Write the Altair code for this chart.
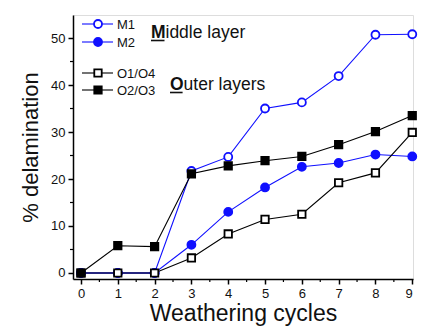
import altair as alt
import pandas as pd

cycles = list(range(10))
m1 = [0, 0, 0, 21.7, 24.7, 35.0, 36.3, 41.9, 50.7, 50.8]
m2 = [0, 0, 0, 6.0, 13.0, 18.2, 22.6, 23.4, 25.2, 24.8]
o14 = [0, 0, 0, 3.2, 8.3, 11.4, 12.5, 19.2, 21.3, 29.9]
o23 = [0, 5.8, 5.6, 21.1, 22.8, 23.9, 24.8, 27.3, 30.1, 33.5]

x_ticks = list(range(10))
y_ticks = [0, 10, 20, 30, 40, 50]
x_minor = [i + 0.5 for i in range(9)]
y_minor = [5, 15, 25, 35, 45]

BLUE = "#1010ff"
FONT = "Liberation Sans"

xs = alt.Scale(domain=[-0.217, 9.02], nice=False, zero=False)
ys = alt.Scale(domain=[-1.28, 54.9], nice=False, zero=False)

xaxis = alt.Axis(values=x_ticks, title="Weathering cycles", grid=False, tickSize=5,
                 tickWidth=1.5, domainWidth=1.5, domainColor="black", tickColor="black",
                 labelFont=FONT, labelFontSize=13, labelColor="#111", labelPadding=3,
                 titleFont=FONT, titleFontSize=23, titleFontWeight="normal",
                 titleColor="#111", titlePadding=2)
yaxis = alt.Axis(values=y_ticks, title="% delamination", grid=False, tickSize=5,
                 tickWidth=1.5, domainWidth=1.5, domainColor="black", tickColor="black",
                 labelFont=FONT, labelFontSize=13, labelColor="#111", labelPadding=3,
                 titleFont=FONT, titleFontSize=22, titleFontWeight="normal",
                 titleColor="#111", titlePadding=8)


def series(vals, color, shape, filled):
    df = pd.DataFrame({"x": cycles, "y": vals})
    x = alt.X("x:Q", scale=xs, axis=xaxis)
    y = alt.Y("y:Q", scale=ys, axis=yaxis)
    line = alt.Chart(df).mark_line(color=color, strokeWidth=1.1).encode(x=x, y=y)
    pts = alt.Chart(df).mark_point(
        shape=shape, size=64 if shape == "circle" else 55, filled=True,
        fill=color if filled else "white", stroke=color, strokeWidth=1.8, opacity=1
    ).encode(x=x, y=y)
    return line + pts


one = pd.DataFrame({"a": [0]})

# minor ticks
xminor_df = pd.DataFrame({"x": x_minor})
yminor_df = pd.DataFrame({"y": y_minor})
xminor = alt.Chart(xminor_df).mark_rule(color="black", strokeWidth=1.2).encode(
    x=alt.X("x:Q", scale=xs, axis=xaxis), y=alt.value(264), y2=alt.value(267))
yminor = alt.Chart(yminor_df).mark_rule(color="black", strokeWidth=1.2).encode(
    y=alt.Y("y:Q", scale=ys, axis=yaxis), x=alt.value(0), x2=alt.value(-3))


def leg_entry(ypix, color, shape, filled, label):
    ln = alt.Chart(one).mark_rule(color=color, strokeWidth=1.1).encode(
        x=alt.value(9), x2=alt.value(40), y=alt.value(ypix))
    pt = alt.Chart(one).mark_point(
        shape=shape, size=64 if shape == "circle" else 55, filled=True,
        fill=color if filled else "white", stroke=color, strokeWidth=1.8, opacity=1
    ).encode(x=alt.value(25), y=alt.value(ypix))
    tx = alt.Chart(one).mark_text(align="left", baseline="middle", font=FONT,
                                  fontSize=13, color="#111").encode(
        x=alt.value(44), y=alt.value(ypix + 1), text=alt.value(label))
    return ln + pt + tx


def group_title(xpix, ybase, first, rest, w):
    a = alt.Chart(one).mark_text(align="left", baseline="alphabetic", font=FONT,
                                 fontSize=17.5, fontWeight="bold", color="#111").encode(
        x=alt.value(xpix), y=alt.value(ybase), text=alt.value(first))
    b = alt.Chart(one).mark_text(align="left", baseline="alphabetic", font=FONT,
                                 fontSize=17.5, color="#111").encode(
        x=alt.value(xpix + w), y=alt.value(ybase), text=alt.value(rest))
    u = alt.Chart(one).mark_rule(color="#111", strokeWidth=1.6).encode(
        x=alt.value(xpix), x2=alt.value(xpix + w - 1), y=alt.value(ybase + 2.5))
    return a + b + u


chart = alt.layer(
    series(m2, BLUE, "circle", True),
    series(m1, BLUE, "circle", False),
    series(o14, "black", "square", False),
    series(o23, "black", "square", True),
    xminor, yminor,
    leg_entry(9, BLUE, "circle", False, "M1"),
    leg_entry(27, BLUE, "circle", True, "M2"),
    leg_entry(58, "black", "square", False, "O1/O4"),
    leg_entry(75, "black", "square", True, "O2/O3"),
    group_title(78, 23, "M", "iddle layer", 14.5),
    group_title(97, 75, "O", "uter layers", 13.6),
).properties(
    width=340, height=264,
    autosize=alt.AutoSizeParams(type="none"),
    padding={"left": 65, "top": 7, "right": 6, "bottom": 48},
).configure_view(stroke=None).configure(background="white")

chart.save("out.html", embed_options={"renderer": "svg", "actions": False})
